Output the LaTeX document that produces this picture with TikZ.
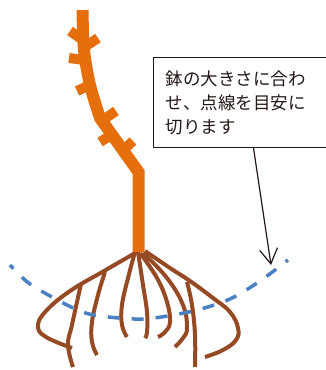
\documentclass[tikz,border=0pt]{standalone}
\usepackage{fontspec}
\newfontfamily\jpfont{Noto Sans CJK JP}
\usetikzlibrary{arrows.meta}

\definecolor{stemorange}{RGB}{229,111,12}
\definecolor{rootbrown}{RGB}{150,74,36}
\definecolor{cutblue}{RGB}{74,128,196}
\definecolor{inkgray}{RGB}{35,24,21}

\tikzset{
	stem/.style={stemorange, line width=12pt},
	twig/.style={stemorange, line width=10pt},
	root/.style={rootbrown, line width=4pt},
	cutline/.style={cutblue, line width=3.5pt, dash pattern=on 12pt off 12pt, dash phase=7pt},
}

\begin{document}
\begin{tikzpicture}[x=1pt,y=-1pt]
	\useasboundingbox (0,0) rectangle (325,370);

	% roots
	\draw  [root] plot[smooth, tension=0.7] 
	   coordinates {(137,252) (104,271) (70,291) (46,311) (38,326) (46,337) (72,348)};
	\draw  [root] plot[smooth, tension=0.7] 
	   coordinates {(81,284) (77,302) (72,325) (68,345) (73,367)};
	\draw  [root] plot[smooth, tension=0.7] 
	   coordinates {(105,272) (98,295) (92,322) (92,342) (97,355)};
	\draw  [root] plot[smooth, tension=0.7] 
	   coordinates {(135,252) (128,278) (122,305) (122,325) (127,337)};
	\draw  [root] plot[smooth, tension=0.7] 
	   coordinates {(138,252) (143,285) (147,312) (147,332) (145,338)};
	\draw  [root] plot[smooth, tension=0.7] 
	   coordinates {(140,253) (157,278) (167,302) (170,322) (165,332) (158,337)};
	\draw  [root] plot[smooth, tension=0.7] 
	   coordinates {(143,253) (167,278) (183,305) (187,328) (183,338) (175,347)};
	\draw  [root] plot[smooth, tension=0.7] 
	   coordinates {(187,282) (192,305) (195,335) (195,367)};
	\draw  [root] plot[smooth, tension=0.7] 
	   coordinates {(145,251) (170,268) (190,281) (213,298) (230,312) (238,328) (236,340) (223,350) (205,357)};

	% stem and cut twigs
	\draw  [stem] plot[smooth] 
	   coordinates {(82.5,10) (84,50) (90,85) (100,118)} -- (138.5,172) -- (138.5,252);
	\draw  [twig] (83,40) -- (70,31);
	\draw  [twig] (86,46) -- (98,38);
	\draw  [twig] (84,60) -- (69,58);
	\draw  [twig] (90,85) -- (77,91);
	\draw  [twig] (100,122) -- (116,111);
	\draw  [twig] (113,134) -- (100,142);
	\draw  [twig] (120,153) -- (133,141);

	% cutting line
	\draw  [cutline] plot[smooth] 
	   coordinates {(10,265) (30,284) (69,306) (94,315) (143,319) (193,311) (230,299) (260,281) (288,260)};

	% note
	\node [draw=inkgray, line width=1pt, anchor=north west, minimum height=90pt,
	   text width=160pt, inner xsep=12pt, align=left, text=inkgray,
	   font=\jpfont\fontsize{17.5}{24}\selectfont] (note) at (153,57)
	   {鉢の大きさに合わ\\せ、点線を目安に\\切ります};
	\coordinate (tip) at (271,265);
	\draw  [inkgray, line width=1.2pt, -{Straight Barb[length=15pt,width=18pt]}] 
	   ([xshift=8pt]note.south) -- (tip);
\end{tikzpicture}
\end{document}
